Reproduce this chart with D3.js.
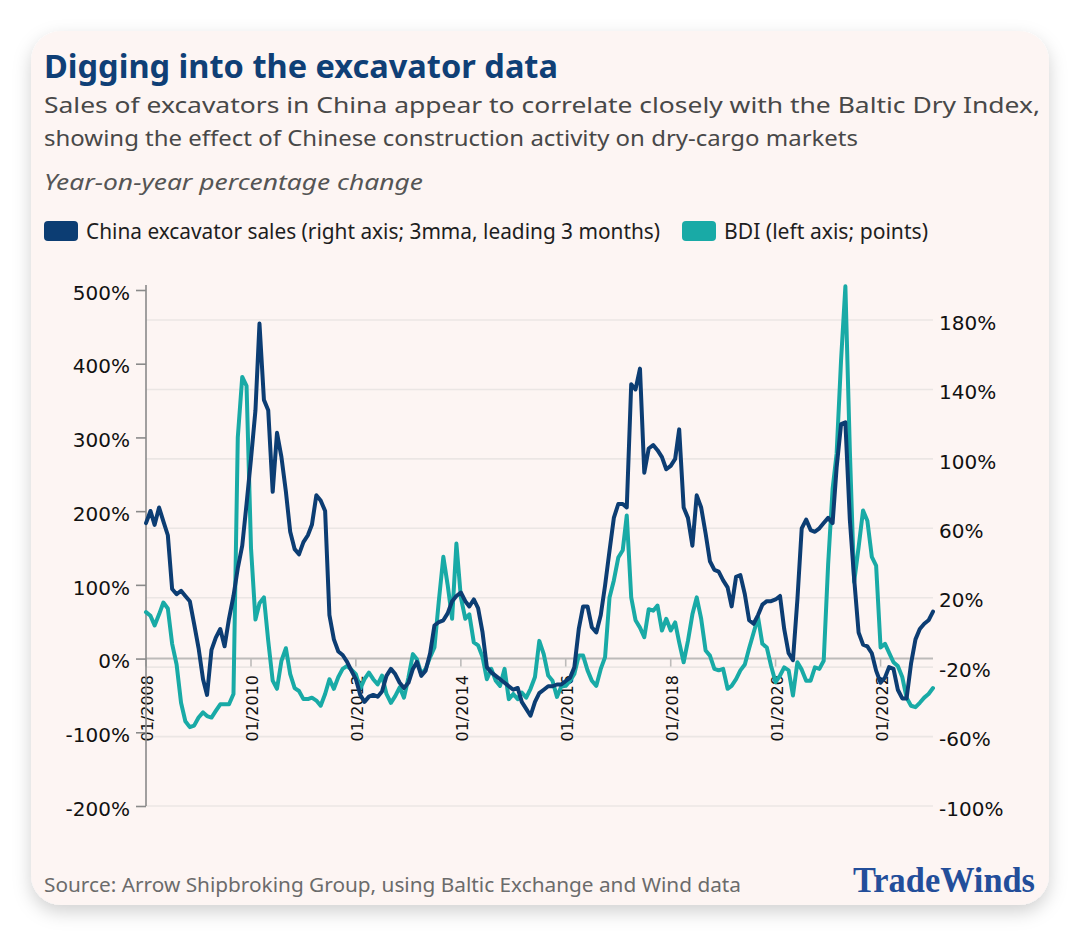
<!DOCTYPE html>
<html><head><meta charset="utf-8">
<script src="https://cdn.jsdelivr.net/npm/d3@7"></script>
<style>body{margin:0;background:#ffffff;} svg{display:block}</style>
</head><body><svg id="c" width="1080" height="937"></svg>
<script>
// ---- data ----
const startMonth = "2008-01";
// China excavator sales, y/y % (right axis; 3mma, leading 3 months), monthly from 01/2008
const excavator = [
63,70,62,72,64,56,25,22,24,21,
18,5,-9,-27,-36,-10,-3,2,-8,8,
21,37,50,74,100,128,178,134,128,81,
115,101,81,58,48,45,52,56,62,79,
76,70,10,-4,-11,-13,-17,-22,-27,-36,
-40,-37,-36,-37,-34,-25,-21,-24,-29,-32,
-29,-21,-17,-25,-22,-12,4,6,7,11,
18,21,23,18,15,19,14,0,-20,-23,
-25,-27,-29,-31,-33,-32,-40,-44,-48,-40,
-35,-33,-31,-31,-30,-30,-28,-26,-20,2,
15,15,3,0,10,27,47,66,74,74,
72,143,140,152,92,106,108,105,101,94,
96,100,117,72,66,50,79,72,57,41,
36,35,30,26,15,32,33,22,7,5,
10,16,18,18,19,21,2,-12,-16,19,
60,65,59,58,60,63,66,63,95,120,
121,65,31,0,-7,-8,-12,-22,-29,-26,
-20,-21,-33,-38,-38,-18,-4,2,5,7,
12
];
// BDI, y/y % (left axis; points), monthly from 01/2008
const bdi = [
63,58,45,60,76,68,20,-8,-60,-85,
-93,-91,-80,-73,-78,-80,-71,-62,-62,-62,
-48,300,382,370,150,53,75,83,24,-30,
-41,-3,14,-21,-40,-44,-55,-55,-53,-57,
-64,-48,-28,-41,-25,-14,-10,-15,-21,-41,
-28,-19,-28,-35,-23,-48,-60,-51,-39,-53,
-26,6,-1,-21,-14,2,15,79,138,100,
54,156,83,54,60,22,18,2,-28,-14,
-30,-37,-14,-55,-48,-55,-46,-53,-41,-25,
24,6,-23,-30,-52,-38,-37,-30,-21,4,
4,-16,-30,-37,-14,2,83,106,137,147,
194,83,52,42,29,67,65,72,38,54,
38,49,22,-5,24,60,83,54,11,4,
-14,-16,-14,-41,-37,-28,-16,-8,14,35,
56,20,15,-10,-32,-23,-12,-16,-50,-5,
-15,-30,-30,-12,-14,-3,128,230,278,405,
505,283,104,151,201,187,138,126,15,20,
8,-5,-10,-25,-53,-64,-66,-60,-53,-48,
-40
];
const leftTicks = [-200,-100,0,100,200,300,400,500];
const rightTicks = [-100,-60,-20,20,60,100,140,180];
const xTickLabels = ["01/2008","01/2010","01/2012","01/2014","01/2016","01/2018","01/2020","01/2022"];
const seriesNames = ["China excavator sales (right axis; 3mma, leading 3 months)", "BDI (left axis; points)"];

// ---- styles ----
const NAVY = "#0c3d73", TEAL = "#19aaa6";
const SANS = "'Noto Sans', 'Open Sans', sans-serif";
const AX = "'DejaVu Sans', sans-serif";

const svg = d3.select("#c");
const defs = svg.append("defs");
const f = defs.append("filter").attr("id","sh").attr("x","-10%").attr("y","-10%").attr("width","120%").attr("height","125%");
f.append("feDropShadow").attr("dx",0).attr("dy",7).attr("stdDeviation",9).attr("flood-color","#000").attr("flood-opacity",0.18);

svg.append("rect").attr("x",31).attr("y",31).attr("width",1018).attr("height",874).attr("rx",30)
  .attr("fill","#fdf5f3").attr("filter","url(#sh)");

function fitText(sel, w){
  sel.attr("textLength", w).attr("lengthAdjust","spacingAndGlyphs");
  return sel;
}

// titles
fitText(svg.append("text").attr("x",44).attr("y",77.5).attr("font-family",SANS).attr("font-weight",700)
  .attr("font-size",33).attr("fill","#0f3f76").text("Digging into the excavator data"), 514);
fitText(svg.append("text").attr("x",44).attr("y",113).attr("font-family",SANS).attr("font-size",22)
  .attr("fill","#484848").text("Sales of excavators in China appear to correlate closely with the Baltic Dry Index,"), 996);
fitText(svg.append("text").attr("x",44).attr("y",145.5).attr("font-family",SANS).attr("font-size",22)
  .attr("fill","#484848").text("showing the effect of Chinese construction activity on dry-cargo markets"), 814);
fitText(svg.append("text").attr("x",44).attr("y",189.5).attr("font-family",SANS).attr("font-style","italic").attr("font-size",22)
  .attr("fill","#555").text("Year-on-year percentage change"), 379);

// legend
const legendItems = [
  {name: seriesNames[0], color: NAVY, x: 44, tx: 86, w: 574},
  {name: seriesNames[1], color: TEAL, x: 682, tx: 724, w: 204}
];
legendItems.forEach(d => {
  svg.append("rect").attr("x", d.x).attr("y", 221).attr("width", 34).attr("height", 20).attr("rx", 4).attr("fill", d.color);
  fitText(svg.append("text").attr("x", d.tx).attr("y", 238.5).attr("font-family", SANS).attr("font-size", 21)
    .attr("fill", "#1e1e1e").text(d.name), d.w);
});

// scales
const parseM = d3.timeParse("%Y-%m");
const t0 = parseM(startMonth);
const dates = excavator.map((_, i) => d3.timeMonth.offset(t0, i));
const x = d3.scaleTime().domain(d3.extent(dates)).range([146, 933]);
const yL = d3.scaleLinear().domain([-200, 500]).range([806, 290]);
const yR = d3.scaleLinear().domain([-100, 197.3]).range([806, 290]);

// grid (right axis ticks)
svg.append("g").selectAll("line").data(rightTicks).join("line")
  .attr("x1", 146).attr("x2", 933).attr("y1", d => yR(d)).attr("y2", d => yR(d))
  .attr("stroke", "#ebe6e4").attr("stroke-width", 1.6);

// zero line (x axis)
svg.append("line").attr("x1",146).attr("x2",933).attr("y1",yL(0)).attr("y2",yL(0))
  .attr("stroke","#bdbbba").attr("stroke-width",2);

// x ticks + labels
const parseL = d3.timeParse("%m/%Y");
const xg = svg.append("g");
xTickLabels.forEach(l => {
  const xx = x(parseL(l));
  xg.append("line").attr("x1",xx).attr("x2",xx).attr("y1",yL(0)).attr("y2",yL(0)+8)
    .attr("stroke","#bdbbba").attr("stroke-width",1.6);
  xg.append("text").attr("transform",`translate(${xx+1.5},${yL(0)+16.5}) rotate(-90)`)
    .attr("text-anchor","end").attr("dominant-baseline","central")
    .attr("font-family",AX).attr("font-size",16).attr("fill","#111").text(l);
});

// left axis
const gl = svg.append("g").attr("transform","translate(146,0)")
  .call(d3.axisLeft(yL).tickValues(leftTicks).tickSize(10).tickSizeOuter(0).tickPadding(6).tickFormat(d => d + "%"));
gl.select(".domain").remove();
gl.selectAll(".tick line").attr("stroke","#8a8a8a").attr("stroke-width",1.6);
gl.selectAll(".tick text").attr("font-family",AX).attr("font-size",20).attr("fill","#111").attr("dy","0.46em");
svg.append("line").attr("x1",146).attr("x2",146).attr("y1",285).attr("y2",806).attr("stroke","#8a8a8a").attr("stroke-width",1.6);

// right axis labels
const gr = svg.append("g").attr("transform","translate(933,0)")
  .call(d3.axisRight(yR).tickValues(rightTicks).tickSize(0).tickPadding(6).tickFormat(d => d + "%"));
gr.select(".domain").remove();
gr.selectAll(".tick text").attr("font-family",AX).attr("font-size",20).attr("fill","#111").attr("dy","0.46em");

// lines
const lineL = d3.line().x((d,i) => x(dates[i])).y(d => yL(d));
const lineR = d3.line().x((d,i) => x(dates[i])).y(d => yR(d));
svg.append("path").datum(bdi).attr("d", lineL).attr("fill","none").attr("stroke",TEAL)
  .attr("stroke-width",4).attr("stroke-linejoin","round").attr("stroke-linecap","round");
svg.append("path").datum(excavator).attr("d", lineR).attr("fill","none").attr("stroke",NAVY)
  .attr("stroke-width",4).attr("stroke-linejoin","round").attr("stroke-linecap","round");

// footer
fitText(svg.append("text").attr("x",44).attr("y",892).attr("font-family",SANS).attr("font-size",20)
  .attr("fill","#6b6b6b").text("Source: Arrow Shipbroking Group, using Baltic Exchange and Wind data"), 697);
fitText(svg.append("text").attr("x",853).attr("y",892).attr("font-family","'Liberation Serif', serif").attr("font-weight",700)
  .attr("font-size",35).attr("fill","#234e9a").text("TradeWinds"), 182);
</script></body></html>
